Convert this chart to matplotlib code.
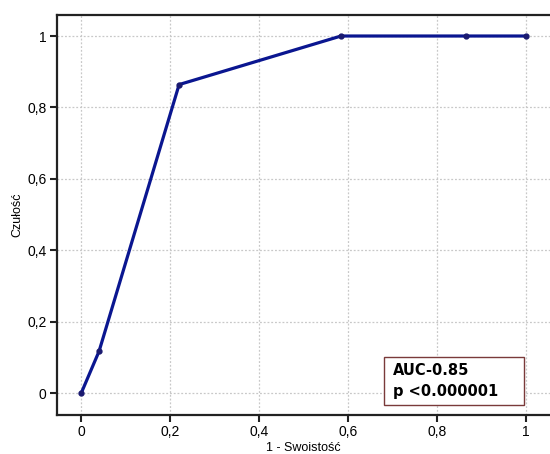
import matplotlib
matplotlib.use("Agg")
import matplotlib.pyplot as plt
from matplotlib.patches import Rectangle

# ROC curve points
fpr = [0.0, 0.04, 0.22, 0.584, 0.864, 1.0]
tpr = [0.0, 0.117, 0.864, 1.0, 1.0, 1.0]
ticks = [0, 0.2, 0.4, 0.6, 0.8, 1]
tick_labels = ["0", "0,2", "0,4", "0,6", "0,8", "1"]
box_lines = ["AUC-0.85", "p <0.000001"]

plt.rcParams['font.family'] = ['Liberation Sans', 'DejaVu Sans']

fig = plt.figure(figsize=(5.5, 4.54), dpi=100)
ax = fig.add_axes([57 / 550, 1 - 415 / 454, 1 - 57 / 550, (415 - 14.7) / 454])

ax.plot(fpr, tpr, color="#0a1690", lw=2.3, marker="o", ms=3.5,
        mfc="#1a1a70", mec="#1a1a70", zorder=3)

ax.set_xlim(-0.0546, 1.054)
ax.set_ylim(-0.0616, 1.0597)
ax.set_xticks(ticks)
ax.set_xticklabels(tick_labels)
ax.set_yticks(ticks)
ax.set_yticklabels(tick_labels)

ax.grid(True, color="#c8c8c8", linestyle=(0, (1.5, 1.5)), lw=0.9)
ax.set_axisbelow(True)

ax.spines['right'].set_visible(False)
for s in ['left', 'top', 'bottom']:
    ax.spines[s].set_linewidth(1.6)
    ax.spines[s].set_color("#222222")

ax.tick_params(direction='out', length=5, width=1.5, labelsize=10, pad=2.5, color="#222222")

ax.set_xlabel("1 - Swoistość", fontsize=9, labelpad=2)
ax.set_ylabel("Czułość", fontsize=9, labelpad=3)

# AUC box
ax.add_patch(Rectangle((0.681, -0.034), 0.315, 0.135, fc='white', ec='#7a3a3a',
                       lw=1.0, zorder=4))
ax.text(0.701, 0.0625, box_lines[0], fontsize=10.5, fontweight='bold',
        family='DejaVu Sans', va='center', ha='left', zorder=5)
ax.text(0.701, 0.004, box_lines[1], fontsize=10.5, fontweight='bold',
        family='DejaVu Sans', va='center', ha='left', zorder=5)

fig.savefig("out.png", dpi=100)
